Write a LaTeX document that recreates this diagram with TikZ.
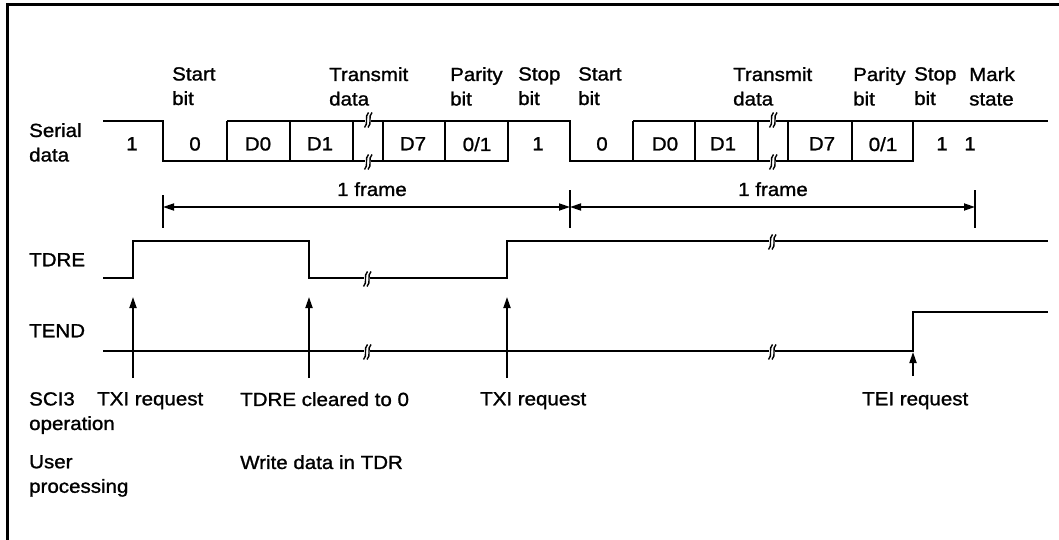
\documentclass[tikz,border=0pt]{standalone}
\usepackage{fontspec}
\setmainfont{Liberation Sans}[FakeStretch=1.08, FakeBold=1.2]
\usetikzlibrary{arrows.meta}
\tikzset{
  lbl/.style={anchor=north west, inner sep=0pt, align=left,
    font=\fontsize{19}{24.5}\selectfont},
  bitlbl/.style={anchor=north, inner sep=0pt, font=\fontsize{19}{24.5}\selectfont},
  wave/.style={line width=2.4pt},
  sepline/.style={line width=2pt},
  upArr/.style={-{Triangle[length=11pt,width=7pt]}, line width=1.8pt},
  dimArr/.style={{Triangle[length=11pt,width=7pt]}-{Triangle[length=11pt,width=7pt]}, line width=1.7pt},
  brk/.pic={
    \fill[white] (-3,-5) rectangle (3,5);
    \draw[line width=1.4pt] (0.5,-7.5) .. controls (-4,-3.5) and (1,3.5) .. (-3.5,7.5);
    \draw[line width=1.4pt] (4,-7.5) .. controls (-0.5,-3.5) and (4.5,3.5) .. (0,7.5);
  },
}

\begin{document}
\begin{tikzpicture}[x=1pt, y=-1pt]
\useasboundingbox (0,0) rectangle (1059,540);

\draw[line width=3pt] (7,540) -- (7,5) -- (1059,5);

% row labels
\node[lbl] at (29,123) (serial) {Serial\\data};
\node[lbl] at (29,253) (tdre) {TDRE};
\node[lbl] at (29,324) (tend) {TEND};
\node[lbl] at (29,392) (sci) {SCI3\\operation};
\node[lbl] at (29,455) (user) {User\\processing};

% bit names
\node[lbl] at (172,67) (start1) {Start\\bit};
\node[lbl] at (329,67) (txd1) {Transmit\\data};
\node[lbl] at (450,67) (par1) {Parity\\bit};
\node[lbl] at (518,67) (stop1) {Stop\\bit};
\node[lbl] at (578,67) (start2) {Start\\bit};
\node[lbl] at (733,67) (txd2) {Transmit\\data};
\node[lbl] at (853,67) (par2) {Parity\\bit};
\node[lbl] at (914,67) (stop2) {Stop\\bit};
\node[lbl] at (969,67) (mark) {Mark\\state};

% serial data
\draw[wave] (103,121) -- (163,121) -- (163,161) -- (508,161) -- (508,121)
  -- (570,121) -- (570,161) -- (913,161) -- (913,121) -- (1048,121);
\draw[wave] (227,121) -- (508,121);
\draw[wave] (633,121) -- (913,121);
\foreach \x in {227,290,353,383,445,633,695,758,788,852}
  \draw[sepline] (\x,121) -- (\x,161);
\pic at (368,120) {brk};
\pic at (368,162) {brk};
\pic at (773,120) {brk};
\pic at (773,162) {brk};

\foreach \x/\t in {132/1,195/0,258/D0,320/D1,413/D7,477/0\slash 1,538/1,
    602/0,665/D0,723/D1,822/D7,883/0\slash 1,942/1,970/1}
  \node[bitlbl] at (\x,137) {\t};

% frames
\coordinate (f0) at (163,207);
\coordinate (f1) at (570,207);
\coordinate (f2) at (975,207);
\draw[sepline] (163,195) -- (163,228);
\draw[sepline] (570,190) -- (570,228);
\draw[sepline] (975,190) -- (975,228);
\draw[dimArr] (f0) -- (f1);
\draw[dimArr] (f1) -- (f2);
\node[bitlbl] at (372,182) (fr1) {1 frame};
\node[bitlbl] at (773,182) (fr2) {1 frame};

% TDRE and TEND
\draw[wave] (103,278) -- (133,278) -- (133,241) -- (309,241) -- (309,278)
  -- (507,278) -- (507,241) -- (1048,241);
\pic at (367,279) {brk};
\pic at (772,242) {brk};
\draw[wave] (103,351) -- (913,351) -- (913,312) -- (1048,312);
\pic at (367,352) {brk};
\pic at (772,352) {brk};

% requests
\coordinate (txi1) at (133,297);
\coordinate (clr) at (309,297);
\coordinate (txi2) at (507,297);
\coordinate (tei) at (913,352);
\draw[upArr] (133,378) -- (txi1);
\draw[upArr] (309,378) -- (clr);
\draw[upArr] (507,378) -- (txi2);
\draw[upArr] (913,376) -- (tei);

\node[lbl] at (97,392) (txiA) {TXI request};
\node[lbl] at (240,392) (clrA) {TDRE cleared to 0};
\node[lbl] at (480,392) (txiB) {TXI request};
\node[lbl] at (862,392) (teiA) {TEI request};
\node[lbl] at (240,455) (wr) {Write data in TDR};

\end{tikzpicture}
\end{document}
